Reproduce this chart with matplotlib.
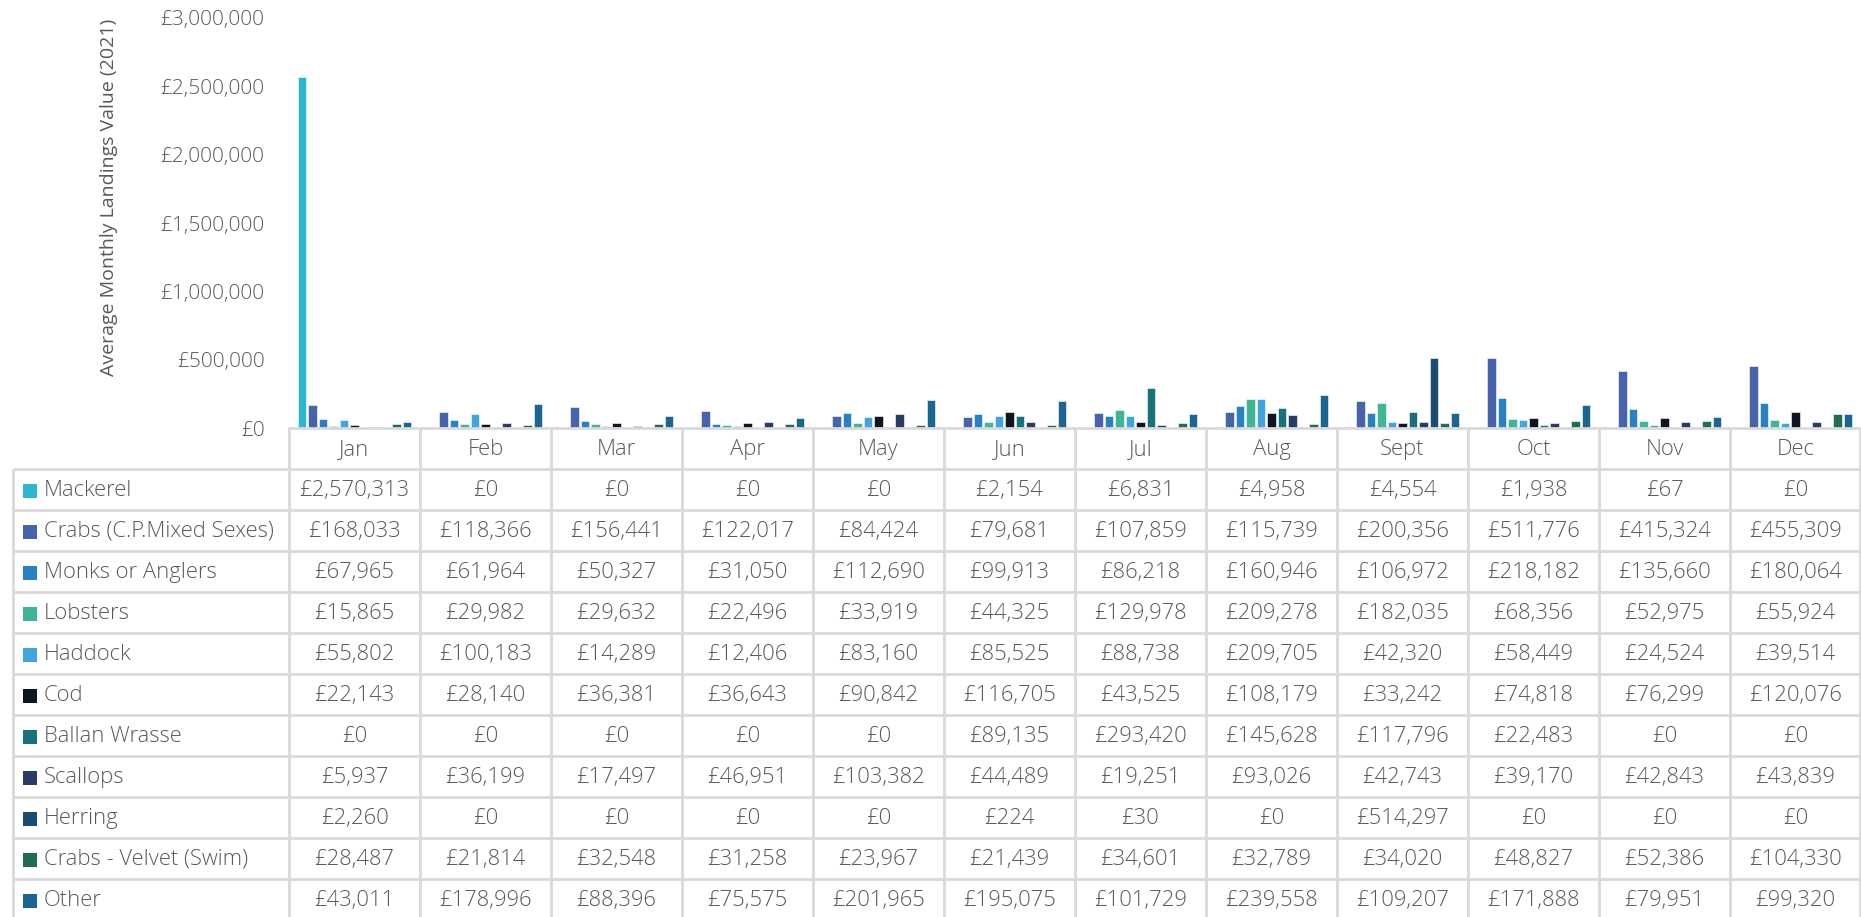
import numpy as np
import matplotlib.pyplot as plt
from matplotlib.patches import Rectangle

months = ['Jan', 'Feb', 'Mar', 'Apr', 'May', 'Jun', 'Jul', 'Aug', 'Sept', 'Oct', 'Nov', 'Dec']
species = ['Mackerel', 'Crabs (C.P.Mixed Sexes)', 'Monks or Anglers', 'Lobsters', 'Haddock', 'Cod',
           'Ballan Wrasse', 'Scallops', 'Herring', 'Crabs - Velvet (Swim)', 'Other']
colors = ['#2BB7CF', '#4663AC', '#2781C5', '#3EB596', '#40A4DF', '#0F1523',
          '#18727B', '#2A3B67', '#1A4B72', '#216C55', '#1B6690']

mackerel = [2570313, 0, 0, 0, 0, 2154, 6831, 4958, 4554, 1938, 67, 0]
crabs_cp = [168033, 118366, 156441, 122017, 84424, 79681, 107859, 115739, 200356, 511776, 415324, 455309]
monks = [67965, 61964, 50327, 31050, 112690, 99913, 86218, 160946, 106972, 218182, 135660, 180064]
lobsters = [15865, 29982, 29632, 22496, 33919, 44325, 129978, 209278, 182035, 68356, 52975, 55924]
haddock = [55802, 100183, 14289, 12406, 83160, 85525, 88738, 209705, 42320, 58449, 24524, 39514]
cod = [22143, 28140, 36381, 36643, 90842, 116705, 43525, 108179, 33242, 74818, 76299, 120076]
ballan = [0, 0, 0, 0, 0, 89135, 293420, 145628, 117796, 22483, 0, 0]
scallops = [5937, 36199, 17497, 46951, 103382, 44489, 19251, 93026, 42743, 39170, 42843, 43839]
herring = [2260, 0, 0, 0, 0, 224, 30, 0, 514297, 0, 0, 0]
crabs_velvet = [28487, 21814, 32548, 31258, 23967, 21439, 34601, 32789, 34020, 48827, 52386, 104330]
other = [43011, 178996, 88396, 75575, 201965, 195075, 101729, 239558, 109207, 171888, 79951, 99320]

series = [mackerel, crabs_cp, monks, lobsters, haddock, cod, ballan, scallops, herring, crabs_velvet, other]

plt.rcParams['font.family'] = ['Open Sans', 'DejaVu Sans']
plt.rcParams['font.weight'] = 'light'
txt = '#595959'
grid = '#D9D9D9'
fs = 15.8

W, H = 1861, 917
fig = plt.figure(figsize=(W / 100, H / 100), dpi=100)

# pixel layout
px_left, px_right = 289, 1861
px_zero, px_top = 428, 18
ax = fig.add_axes([px_left / W, 1 - px_zero / H, (px_right - px_left) / W, (px_zero - px_top) / H])

n = len(series)
step = 0.08
width = 0.066
x = np.arange(len(months))
for i, (vals, c) in enumerate(zip(series, colors)):
    off = (i - (n - 1) / 2) * step
    ax.bar(x + 0.5 + off, vals, width=width, color=c, edgecolor='white', linewidth=0.4)

ax.set_xlim(0, len(months))
ax.set_ylim(0, 3000000)
ax.set_yticks(np.arange(0, 3000001, 500000))
ax.set_yticklabels(['£{:,.0f}'.format(v) for v in ax.get_yticks()], color=txt, fontsize=15)
ax.tick_params(axis='y', length=0, pad=17.5)
ax.set_xticks([])
for s in ['top', 'right', 'left']:
    ax.spines[s].set_visible(False)
ax.spines['bottom'].set_color(grid)
ax.spines['bottom'].set_linewidth(2)
ax.set_ylabel('Average Monthly Landings Value (2021)', color=txt, fontsize=14)
ax.yaxis.set_label_coords(-(px_left - 118) / (px_right - px_left), (px_zero - 197) / (px_zero - px_top))

# data table underneath
tab = fig.add_axes([0, 0, 1, 1])
tab.set_xlim(0, W)
tab.set_ylim(H, 0)
tab.axis('off')

col_w = (px_right - px_left) / len(months)
row_h = 41
hdr_top = px_zero
rows_top = 469
tbl_left = 13
lw = 2

# header row (months)
for j, m in enumerate(months):
    xc = px_left + (j + 0.5) * col_w
    tab.text(xc, (hdr_top + rows_top) / 2 + 1, m, ha='center', va='center', fontsize=fs, color=txt)
for j in range(len(months) + 1):
    xv = min(px_left + j * col_w, W - 1)
    tab.plot([xv, xv], [hdr_top, H], color=grid, lw=lw, solid_capstyle='butt')

# rows
for i, name in enumerate(species):
    y0 = rows_top + i * row_h
    yc = y0 + row_h / 2 + 1
    tab.add_patch(Rectangle((23, yc - 7), 14, 14, color=colors[i], lw=0))
    tab.text(44, yc, name, ha='left', va='center', fontsize=fs, color=txt)
    for j in range(len(months)):
        xc = px_left + (j + 0.5) * col_w
        tab.text(xc, yc, '£{:,}'.format(series[i][j]), ha='center', va='center', fontsize=fs, color=txt)
for i in range(len(species) + 1):
    yv = rows_top + i * row_h
    tab.plot([tbl_left, W], [yv, yv], color=grid, lw=lw, solid_capstyle='butt')
tab.plot([tbl_left, tbl_left], [rows_top, H], color=grid, lw=lw, solid_capstyle='butt')

fig.savefig('out.png', dpi=100)
